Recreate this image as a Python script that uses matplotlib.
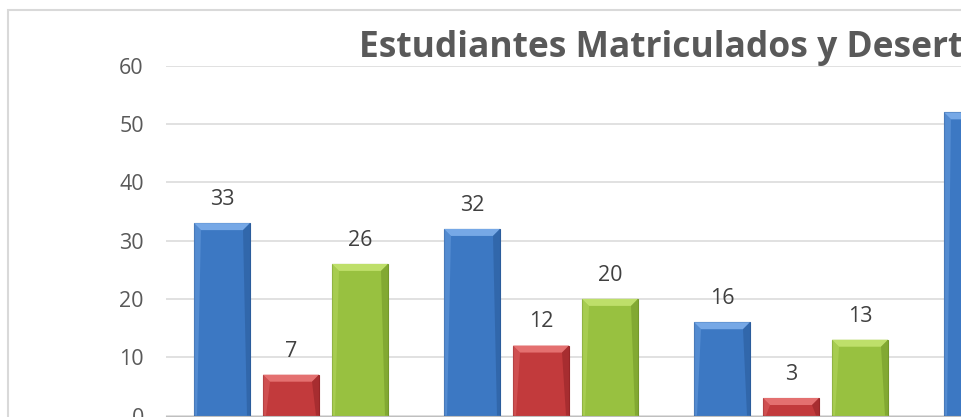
import matplotlib.pyplot as plt
from matplotlib.patches import Polygon, Rectangle
import numpy as np

# datos (solo lo que se ve en el recorte)
grupos = [0, 1, 2, 3]
matriculados = [33, 32, 16, 52]
desertores = [7, 12, 3]
tercera_serie = [26, 20, 13]
titulo = 'Estudiantes Matriculados y Desertores'

series = [
    (matriculados, -0.276, '#3C78C3', '#76A8E6', '#2B5C9C'),
    (desertores, 0.0, '#C23A3C', '#E47070', '#962528'),
    (tercera_serie, 0.276, '#98C140', '#BEDF6A', '#74992A'),
]

W, H = 961, 417
fig = plt.figure(figsize=(W / 100, H / 100), dpi=100)
fig.patch.set_facecolor('white')

# marco gris del area del grafico
fig.patches.append(Rectangle((8 / W, -0.1), 1.2, 1 - 10 / H + 0.1,
                             transform=fig.transFigure, fill=False,
                             edgecolor='#D9D9D9', linewidth=1.5))

ax = fig.add_axes([166 / W, 1.5 / H, 1000 / W, 349.8 / H])
ax.set_xlim(-0.5, 3.5)
ax.set_ylim(0, 60)
ax.set_yticks(range(0, 61, 10))
ax.set_xticks([])
ax.yaxis.grid(True, color='#D9D9D9', linewidth=1.1)
ax.set_axisbelow(True)
for s in ['top', 'right', 'left']:
    ax.spines[s].set_visible(False)
ax.spines['bottom'].set_color('#BFBFBF')
ax.tick_params(axis='y', length=0, pad=16, labelsize=15.5, labelcolor='#595959')
for lbl in ax.get_yticklabels():
    lbl.set_fontfamily('Open Sans')

ancho = 0.224
bx = 7 / 250          # bisel horizontal en unidades de datos
by = 7 / 5.83         # bisel vertical en unidades de datos
sx = 3 / 250

for valores, desp, base, claro, oscuro in series:
    xs = np.array(grupos[:len(valores)]) + desp
    barras = ax.bar(xs, valores, width=ancho, color=base, edgecolor=oscuro,
                    linewidth=0.8, zorder=2)
    for r, v in zip(barras, valores):
        x0, w, h = r.get_x(), r.get_width(), r.get_height()
        # bisel superior claro
        ax.add_patch(Polygon([(x0, h), (x0 + w, h), (x0 + w - bx, h - by), (x0 + bx, h - by)],
                             closed=True, facecolor=claro, edgecolor='none', zorder=3))
        # lados
        ax.add_patch(Polygon([(x0 + w, h), (x0 + w, 0), (x0 + w - sx, 0), (x0 + w - bx, h - by)],
                             closed=True, facecolor=oscuro, edgecolor='none', alpha=0.6, zorder=3))
        ax.add_patch(Polygon([(x0, h), (x0, 0), (x0 + sx, 0), (x0 + bx, h - by)],
                             closed=True, facecolor=claro, edgecolor='none', alpha=0.4, zorder=3))
        ax.annotate(str(v), (r.get_x() + w / 2, h), xytext=(0, 17),
                    textcoords='offset points', ha='center', va='center',
                    fontsize=15.5, color='#404040', family='Open Sans')

fig.text(359 / W, (H - 56.7) / H, titulo, ha='left', va='baseline',
         fontsize=25.5, fontweight='bold', color='#595959', family='Open Sans')

fig.savefig('out.png', dpi=100)
